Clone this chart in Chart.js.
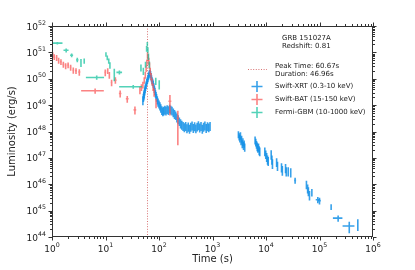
<!DOCTYPE html>
<html><head><meta charset="utf-8">
<script src="https://cdn.jsdelivr.net/npm/chart.js@4.4.0/dist/chart.umd.min.js"></script>
<style>html,body{margin:0;padding:0;background:#fff;}canvas{display:block;}</style>
</head><body>
<canvas id="c" width="415" height="270"></canvas>
<script>
// ---------- data ----------
const grbName = "GRB 151027A";
const redshift = 0.81;
const peakTime = 60.67;
const duration = 46.96;
const xExponents = [0,1,2,3,4,5,6];
const yExponents = [44,45,46,47,48,49,50,51,52];
const seriesNames = ["Swift-XRT (0.3-10 keV)","Swift-BAT (15-150 keV)","Fermi-GBM (10-1000 keV)"];

const xrtTime = [50,51,52,53,54,55,56,57.5,59,60.5,62,63.5,65,66.5,68,69.5,71,72.5,74,76,78,80,82,84,86,88,90,93,96,100,
 104,108,113,118,123,129,135,142,150,158,166,175,185,195,205,216,228,240,253,267,282,298,
 315,333,352,372,393,415,438,463,489,517,546,577,610,645,682,721,762,806,852,900,
 3050,3150,3250,3330,3420,3500,3600,3700,3800,3900,4000,
 6250,6450,6650,6850,7050,7250,7450,7650,
 9500,9900,10300,10700,11000,12500,12900,13200,15800,16400,19500,20200,23200,23900,26000,29000,35000,
 57000,60000,62000,65000,72000,93000,100000,165000,223000,360000,520000];
const xrtTimeErr = [0.5,0.5,0.5,0.5,0.5,0.5,0.6,0.6,0.6,0.6,0.6,0.6,0.6,0.6,0.6,0.6,0.6,0.6,0.8,0.8,0.8,0.8,0.8,0.8,0.8,0.8,1,1,1.5,1.5,
 2,2,2.5,2.5,3,3,3.5,3.5,4,4,4.5,4.5,5,5,5.5,5.5,6,6.5,7,7,8,8,
 9,9,10,10,11,11,12,12,13,13,14,14,15,15,16,16,17,17,18,18,
 40,40,40,40,40,40,40,40,40,40,40,
 80,80,80,80,80,80,80,80,
 120,120,120,120,120,150,150,150,200,200,250,250,300,300,300,350,1500,
 800,800,800,800,1000,8000,6000,4000,45000,90000,15000];
const xrtLum = [1.58e49,2.0e49,2.4e49,2.8e49,3.5e49,4.2e49,5.0e49,6.0e49,7.6e49,8.9e49,1.05e50,1.26e50,1.45e50,1.66e50,1.74e50,1.51e50,1.26e50,1.05e50,8.9e49,7.6e49,6.6e49,5.2e49,4.2e49,3.5e49,2.8e49,2.4e49,2.0e49,1.6e49,1.32e49,1.12e49,
 9.5e48,7.9e48,6.6e48,6.0e48,6.3e48,6.9e48,6.3e48,7.2e48,6.6e48,7.6e48,6.9e48,6.3e48,5.5e48,4.8e48,4.2e48,3.5e48,3.0e48,2.5e48,2.1e48,1.86e48,1.66e48,1.5e48,
 1.66e48,1.38e48,1.58e48,1.32e48,1.55e48,1.74e48,1.41e48,1.62e48,1.35e48,1.58e48,1.78e48,1.45e48,1.66e48,1.32e48,1.55e48,1.74e48,1.41e48,1.62e48,1.48e48,1.66e48,
 7.9e47,6.6e47,5.6e47,7.1e47,4.5e47,5.2e47,3.5e47,4.2e47,3.0e47,3.5e47,2.6e47,
 4.8e47,4.0e47,3.3e47,2.8e47,2.4e47,2.6e47,2.0e47,1.8e47,
 1.8e47,1.4e47,1.12e47,8.9e46,7.9e46,1.4e47,8.9e46,6.3e46,7.1e46,5.2e46,4.5e46,3.5e46,4.2e46,3.2e46,3.2e46,2.9e46,1.4e46,
 1.0e46,7.1e45,5.6e45,4.0e45,5.0e45,2.6e45,2.4e45,1.4e45,5.2e44,2.6e44,3.2e44];
const xrtLumErr = [0.6e49,0.7e49,0.9e49,1.0e49,1.2e49,1.4e49,1.6e49,1.9e49,2.3e49,2.6e49,0.32e50,0.38e50,0.42e50,0.48e50,0.5e50,0.45e50,0.38e50,0.32e50,2.6e49,2.3e49,2.0e49,1.6e49,1.3e49,1.1e49,0.9e49,0.75e49,0.65e49,0.55e49,0.45e49,0.38e49,
 3.3e48,2.8e48,2.4e48,2.2e48,2.3e48,2.5e48,2.3e48,2.6e48,2.4e48,2.7e48,2.5e48,2.3e48,2.0e48,1.8e48,1.5e48,1.3e48,1.1e48,0.9e48,0.8e48,0.7e48,0.62e48,0.56e48,
 0.62e48,0.52e48,0.6e48,0.5e48,0.58e48,0.64e48,0.53e48,0.6e48,0.5e48,0.58e48,0.66e48,0.54e48,0.62e48,0.5e48,0.58e48,0.64e48,0.53e48,0.6e48,0.55e48,0.62e48,
 2.4e47,2.0e47,1.8e47,2.2e47,1.5e47,1.7e47,1.2e47,1.4e47,1.0e47,1.1e47,0.9e47,
 1.6e47,1.3e47,1.1e47,1.0e47,0.85e47,0.9e47,0.75e47,0.65e47,
 0.65e47,0.5e47,0.42e47,3.4e46,3.0e46,0.55e47,3.4e46,2.5e46,2.6e46,2.0e46,1.7e46,1.4e46,1.6e46,1.25e46,1.25e46,1.1e46,0.35e46,
 0.35e46,2.6e45,2.1e45,1.6e45,1.6e45,0.7e45,0.7e45,0.35e45,1.4e44,1.2e44,1.5e44];

const batTime = [1.03,1.10,1.22,1.33,1.47,1.63,1.80,2.00,2.23,2.50,2.81,3.24,6.4,9.9,11.0,11.8,13.0,15.3,18.8,25.5,35.5,
 44,47,50,53,55.5,57.5,59.3,61.0,62.7,64.5,66.5,68.5,71,74,77.5,81,88,160,225];
const batTimeErr = [0.03,0.04,0.05,0.05,0.06,0.07,0.07,0.08,0.09,0.1,0.12,0.15,2.9,0.4,0.4,0.4,0.5,0.8,1.0,1.5,2.0,
 1,1,1,1,0.8,0.8,0.8,0.8,0.8,0.8,0.8,0.8,1,1,1.2,1.5,2,10,12];
const batLum = [8.1e50,6.8e50,6.3e50,5.0e50,4.4e50,3.5e50,3.1e50,3.3e50,2.7e50,2.1e50,2.0e50,1.8e50,3.5e49,1.74e50,2.0e50,1.4e50,7.2e49,8.9e49,2.75e49,1.74e49,6.6e48,
 3.8e49,4.8e49,6.0e49,8.9e49,1.4e50,2.5e50,4.2e50,7.9e50,6.6e50,4.8e50,3.2e50,2.0e50,1.26e50,7.9e49,5.0e49,3.2e49,1.26e49,1.4e49,3.2e48];
const batLumErr = [2.0e50,1.7e50,1.6e50,1.3e50,1.1e50,0.9e50,0.8e50,0.8e50,0.7e50,0.55e50,0.5e50,0.5e50,0.8e49,0.5e50,0.5e50,0.4e50,2.0e49,2.5e49,0.8e49,0.5e49,2.2e48,
 1.2e49,1.4e49,1.7e49,2.5e49,0.4e50,0.7e50,1.2e50,2.2e50,1.9e50,1.4e50,0.9e50,0.6e50,0.4e50,2.4e49,1.6e49,1.1e49,0.5e49,1.0e49,2.9e48];

const gbmTime = [1.26,1.84,2.33,2.97,3.48,4.0,6.85,10.2,10.8,11.5,12.1,14.6,18.2,33,46,51,56,58.7,60.5,62,63.5,66,87,101];
const gbmTimeErr = [0.31,0.2,0.15,0.15,0.12,0.12,2.55,0.15,0.15,0.15,0.15,0.5,2.2,15,0.8,0.8,0.6,0.6,0.6,0.6,0.6,0.8,2,2];
const gbmLum = [2.24e51,1.2e51,7.8e50,5.2e50,4.2e50,4.8e50,1.12e50,8.5e50,6.3e50,4.8e50,3.3e50,1.6e50,1.74e50,5.0e49,2.7e50,2.0e50,3.5e50,1.4e51,2.1e51,1.26e51,7.1e50,3.5e50,8.3e49,6.3e49];
const gbmLumErr = [0.25e51,0.2e51,1.2e50,1.0e50,1.4e50,1.1e50,0.2e50,1.6e50,1.3e50,1.1e50,0.9e50,0.8e50,0.3e50,0.8e49,0.8e50,0.6e50,0.9e50,0.35e51,0.4e51,0.3e51,2.0e50,1.0e50,2.5e49,2.4e49];

// ---------- styles ----------
const COL_XRT = 'rgba(20,145,230,0.85)';
const COL_BAT = 'rgba(250,90,90,0.75)';
const COL_GBM = 'rgba(25,195,160,0.75)';
const FONT = '"DejaVu Sans", sans-serif';

function mk(t, l, tE, lE, label, color) {
  return { label, data: t.map((v,i)=>({x:v, y:l[i]})), tErr: tE, lErr: lE,
    borderColor: color, backgroundColor: color, pointRadius: 0, showLine: false };
}

const errPlugin = {
  id: 'errbars',
  beforeDatasetsDraw(chart) {
    const {ctx, chartArea: a, scales: {x, y}} = chart;
    const px = Math.round(x.getPixelForValue(peakTime)) + 0.5;
    ctx.save();
    ctx.strokeStyle = 'rgba(200,60,60,0.9)';
    ctx.lineWidth = 0.8;
    ctx.setLineDash([1,1.6]);
    ctx.beginPath(); ctx.moveTo(px, a.top); ctx.lineTo(px, a.bottom); ctx.stroke();
    ctx.restore();
  },
  afterDatasetsDraw(chart) {
    const {ctx, chartArea: a, scales: {x, y}} = chart;
    ctx.save();
    ctx.beginPath(); ctx.rect(a.left, a.top, a.right-a.left, a.bottom-a.top); ctx.clip();
    chart.data.datasets.forEach(ds => {
      ctx.strokeStyle = ds.borderColor; ctx.lineWidth = 1.6;
      ds.data.forEach((p, i) => {
        const cx = x.getPixelForValue(p.x), cy = y.getPixelForValue(p.y);
        const x0 = x.getPixelForValue(Math.max(p.x - ds.tErr[i], 1e-3));
        const x1 = x.getPixelForValue(p.x + ds.tErr[i]);
        const y0 = y.getPixelForValue(Math.max(p.y - ds.lErr[i], 1e40));
        const y1 = y.getPixelForValue(p.y + ds.lErr[i]);
        ctx.beginPath();
        ctx.moveTo(x0, cy); ctx.lineTo(x1, cy);
        ctx.moveTo(cx, y0); ctx.lineTo(cx, y1);
        ctx.stroke();
      });
    });
    ctx.restore();
  },
  afterDraw(chart) {
    const {ctx, chartArea: a, scales: {x, y}} = chart;
    ctx.save();
    // frame
    ctx.strokeStyle = '#333'; ctx.lineWidth = 1;
    ctx.strokeRect(a.left + 0.5, a.top + 0.5, a.right - a.left - 1, a.bottom - a.top - 1);
    // ticks
    ctx.beginPath();
    for (let e = xExponents[0]; e < xExponents[xExponents.length-1] + 1; e++) {
      for (let m = 1; m <= 9; m++) {
        const v = m * Math.pow(10, e);
        if (v > Math.pow(10, xExponents[xExponents.length-1])) break;
        const p = Math.round(x.getPixelForValue(v)) + 0.5;
        const len = m === 1 ? 3.5 : 2;
        ctx.moveTo(p, a.bottom); ctx.lineTo(p, a.bottom + len);
        ctx.moveTo(p, a.top); ctx.lineTo(p, a.top - len);
      }
    }
    for (let e = yExponents[0]; e <= yExponents[yExponents.length-1]; e++) {
      for (let m = 1; m <= 9; m++) {
        const v = m * Math.pow(10, e);
        if (v > Math.pow(10, yExponents[yExponents.length-1]) * 1.0001) break;
        const p = Math.round(y.getPixelForValue(v)) + 0.5;
        const len = m === 1 ? 3.5 : 2;
        ctx.moveTo(a.left, p); ctx.lineTo(a.left - len, p);
        ctx.moveTo(a.right, p); ctx.lineTo(a.right + len, p);
      }
    }
    ctx.stroke();
    // tick labels
    ctx.fillStyle = '#222';
    ctx.textBaseline = 'alphabetic';
    const base = '9px ' + FONT, sup = '6.3px ' + FONT;
    xExponents.forEach(e => {
      const p = x.getPixelForValue(Math.pow(10, e));
      ctx.font = base; const w1 = ctx.measureText('10').width;
      ctx.font = sup; const w2 = ctx.measureText(String(e)).width;
      const sx = p - (w1 + w2) / 2;
      ctx.font = base; ctx.textAlign = 'left'; ctx.fillText('10', sx, 251.5);
      ctx.font = sup; ctx.fillText(String(e), sx + w1, 246.5);
    });
    yExponents.forEach(e => {
      const p = y.getPixelForValue(Math.pow(10, e));
      ctx.font = sup; const w2 = ctx.measureText(String(e)).width;
      const right = a.left - 6;
      ctx.textAlign = 'right';
      ctx.fillText(String(e), right, p - 1.5);
      ctx.font = base; ctx.fillText('10', right - w2, p + 3.5);
    });
    // axis titles
    ctx.font = '10px ' + FONT; ctx.textAlign = 'center'; ctx.textBaseline = 'middle';
    ctx.fillText('Time (s)', (a.left + a.right) / 2, 259);
    ctx.save(); ctx.translate(12, (a.top + a.bottom) / 2); ctx.rotate(-Math.PI / 2);
    ctx.fillText('Luminosity (erg/s)', 0, 0); ctx.restore();
    // annotation text
    ctx.font = '7px ' + FONT; ctx.textAlign = 'left';
    ctx.fillText(grbName, 282, 38.5);
    ctx.fillText('Redshift: ' + redshift, 282, 46.5);
    ctx.fillText('Peak Time: ' + peakTime + 's', 275, 66);
    ctx.fillText('Duration: ' + duration + 's', 275, 74);
    ctx.strokeStyle = 'rgba(200,60,60,0.9)'; ctx.lineWidth = 0.8; ctx.setLineDash([1,1.6]);
    ctx.beginPath(); ctx.moveTo(248, 69.5); ctx.lineTo(267, 69.5); ctx.stroke();
    ctx.setLineDash([]);
    const cols = [COL_XRT, COL_BAT, COL_GBM];
    const ys = [86.5, 99.5, 112.5];
    seriesNames.forEach((n, i) => {
      ctx.strokeStyle = cols[i]; ctx.lineWidth = 1.6;
      ctx.beginPath();
      ctx.moveTo(251.5, ys[i]); ctx.lineTo(262.5, ys[i]);
      ctx.moveTo(257, ys[i] - 5.5); ctx.lineTo(257, ys[i] + 5.5);
      ctx.stroke();
      ctx.fillStyle = '#222';
      ctx.fillText(n, 275, ys[i]);
    });
    ctx.restore();
  }
};

new Chart(document.getElementById('c'), {
  type: 'scatter',
  data: { datasets: [
    mk(xrtTime, xrtLum, xrtTimeErr, xrtLumErr, seriesNames[0], COL_XRT),
    mk(batTime, batLum, batTimeErr, batLumErr, seriesNames[1], COL_BAT),
    mk(gbmTime, gbmLum, gbmTimeErr, gbmLumErr, seriesNames[2], COL_GBM)
  ]},
  options: {
    responsive: false, animation: false, devicePixelRatio: 1,
    layout: { padding: { left: 52, right: 42, top: 26, bottom: 33 } },
    plugins: { legend: { display: false }, tooltip: { enabled: false } },
    scales: {
      x: { type: 'logarithmic', min: Math.pow(10, xExponents[0]), max: Math.pow(10, xExponents[xExponents.length-1]), display: false },
      y: { type: 'logarithmic', min: Math.pow(10, yExponents[0]), max: Math.pow(10, yExponents[yExponents.length-1]), display: false }
    }
  },
  plugins: [errPlugin]
});
</script>
</body></html>
